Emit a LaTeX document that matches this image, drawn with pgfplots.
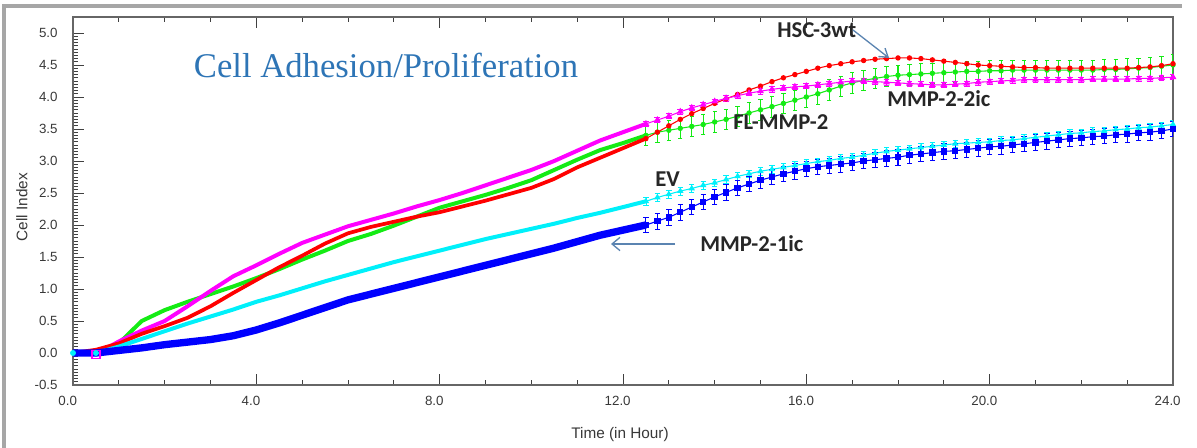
\documentclass[border=0pt]{standalone}
\usepackage{fontspec}
\setmainfont{Liberation Sans}
\newfontfamily\titlefont{Liberation Serif}
\newfontfamily\annfont{Carlito}
\usepackage{pgfplots}
\pgfplotsset{compat=1.18}
\usepackage{pgfplotstable}
\usetikzlibrary{arrows.meta}

\definecolor{ttl}{RGB}{46,117,182}
\definecolor{arr}{RGB}{91,132,177}
\definecolor{cgreen}{RGB}{20,235,20}
\definecolor{ccyan}{RGB}{0,240,250}
\definecolor{cmag}{RGB}{255,0,255}
\definecolor{cblue}{RGB}{0,0,255}
\definecolor{cred}{RGB}{255,0,0}

% t  blue(MMP-2-1ic) cyan(EV) green(FL-MMP-2) red(HSC-3wt) magenta(MMP-2-2ic)
\pgfplotstableread{
t    b    c    g    r    m
0    0    0    0    0    0
0.5  0    0    0    0.05 -0.02
1.0  0.04 0.10 0.15 0.15 0.18
1.5  0.08 0.22 0.50 0.30 0.35
2.0  0.13 0.34 0.67 0.42 0.50
2.5  0.17 0.46 0.80 0.55 0.73
3.0  0.21 0.57 0.92 0.73 0.97
3.5  0.27 0.68 1.04 0.94 1.20
4.0  0.36 0.80 1.17 1.14 1.37
4.5  0.47 0.90 1.31 1.34 1.55
5.0  0.59 1.01 1.46 1.52 1.72
5.5  0.71 1.12 1.60 1.71 1.85
6.0  0.83 1.22 1.75 1.87 1.98
6.5  0.92 1.32 1.86 1.97 2.08
7.0  1.01 1.42 1.99 2.05 2.18
7.5  1.10 1.51 2.13 2.13 2.29
8.0  1.19 1.60 2.27 2.20 2.39
8.5  1.28 1.69 2.37 2.29 2.50
9.0  1.37 1.78 2.47 2.38 2.62
9.5  1.46 1.86 2.58 2.48 2.74
10.0 1.55 1.94 2.70 2.58 2.86
10.5 1.64 2.02 2.86 2.72 3.00
11.0 1.74 2.11 3.02 2.90 3.16
11.5 1.84 2.19 3.17 3.05 3.32
12.0 1.92 2.28 3.28 3.20 3.45
12.5 2.00 2.37 3.40 3.35 3.58
}\dense

\pgfplotstableread{
t     b    c    g    r    m
12.5  2.00 2.37 3.40 3.35 3.58
12.75 2.06 2.43 3.45 3.45 3.64
13.0  2.12 2.48 3.48 3.55 3.70
13.25 2.20 2.53 3.51 3.65 3.77
13.5  2.28 2.57 3.54 3.74 3.83
13.75 2.36 2.62 3.57 3.82 3.88
14.0  2.44 2.66 3.61 3.90 3.93
14.25 2.51 2.71 3.65 3.97 3.98
14.5  2.58 2.76 3.70 4.04 4.02
14.75 2.64 2.80 3.75 4.11 4.06
15.0  2.70 2.84 3.80 4.17 4.09
15.25 2.75 2.87 3.85 4.24 4.12
15.5  2.80 2.90 3.90 4.30 4.14
15.75 2.84 2.93 3.95 4.35 4.16
16.0  2.88 2.96 4.00 4.40 4.17
16.25 2.91 2.99 4.05 4.45 4.19
16.5  2.93 3.01 4.11 4.49 4.21
16.75 2.95 3.04 4.17 4.52 4.23
17.0  2.97 3.06 4.22 4.55 4.25
17.25 3.00 3.09 4.26 4.57 4.25
17.5  3.02 3.12 4.29 4.59 4.24
17.75 3.04 3.15 4.32 4.60 4.23
18.0  3.06 3.17 4.34 4.61 4.22
18.25 3.09 3.19 4.35 4.61 4.21
18.5  3.11 3.21 4.36 4.60 4.20
18.75 3.13 3.23 4.37 4.58 4.19
19.0  3.15 3.25 4.38 4.56 4.19
19.25 3.16 3.27 4.39 4.54 4.20
19.5  3.18 3.28 4.40 4.52 4.21
19.75 3.20 3.29 4.40 4.50 4.23
20.0  3.22 3.30 4.41 4.49 4.24
20.25 3.23 3.32 4.41 4.48 4.25
20.5  3.25 3.33 4.42 4.47 4.26
20.75 3.27 3.35 4.42 4.46 4.27
21.0  3.29 3.37 4.42 4.46 4.27
21.25 3.31 3.39 4.42 4.45 4.27
21.5  3.33 3.41 4.42 4.45 4.27
21.75 3.35 3.43 4.42 4.45 4.27
22.0  3.36 3.44 4.42 4.45 4.27
22.25 3.38 3.46 4.42 4.45 4.28
22.5  3.39 3.47 4.43 4.45 4.28
22.75 3.41 3.49 4.43 4.45 4.28
23.0  3.42 3.50 4.44 4.45 4.28
23.25 3.44 3.52 4.45 4.46 4.29
23.5  3.45 3.53 4.46 4.47 4.29
23.75 3.47 3.55 4.48 4.49 4.30
24.0  3.50 3.57 4.50 4.52 4.31
}\sparse

\begin{document}
\begin{tikzpicture}
\begin{axis}[
  scale only axis, width=825pt, height=276pt,
  xmin=0, xmax=24, ymin=-0.5, ymax=5.25,
  xtick={0,4,...,24}, minor x tick num=3,
  ytick={-0.5,0,...,5}, minor y tick num=9,
  xtick pos=both, ytick pos=left, tick align=inside,
  major tick length=8pt, minor tick length=4pt,
  axis line style={color=black!60, line width=0.9pt},
  every tick/.style={black!75, line width=0.6pt},
  /pgf/number format/.cd, fixed, fixed zerofill, precision=1, assume math mode=true,
  /pgfplots/.cd,
  tick label style={font=\fontsize{10}{12}\selectfont, color=black!78},
  xticklabel style={yshift=-5pt, xshift=-4pt},
  yticklabel style={xshift=-8pt},
  clip=true,
]
% dense early part
\addplot[cgreen, line width=3pt, no marks] table[x=t,y=g]{\dense};
\addplot[cmag, line width=3pt, no marks] table[x=t,y=m]{\dense};
\addplot[cred, line width=2.8pt, no marks] table[x=t,y=r]{\dense};
\addplot[ccyan, line width=3pt, no marks] table[x=t,y=c]{\dense};
\addplot[cblue, line width=5.5pt, no marks] table[x=t,y=b]{\dense};
% sparse later part
\addplot[cgreen, line width=0.8pt, mark=*, mark size=1.6pt,
  error bars/.cd, y dir=both, y fixed=0.16,
  error bar style={line width=0.8pt}] table[x=t,y=g]{\sparse};
\addplot[cred, line width=0.8pt, mark=*, mark size=1.6pt] table[x=t,y=r]{\sparse};
\addplot[cmag, line width=0.8pt, mark=triangle*, mark size=2.2pt,
  error bars/.cd, y dir=both, y fixed=0.04,
  error bar style={line width=0.6pt}] table[x=t,y=m]{\sparse};
\addplot[ccyan, line width=0.8pt, mark=triangle*, mark size=2pt,
  error bars/.cd, y dir=both, y fixed=0.06,
  error bar style={line width=0.6pt}] table[x=t,y=c]{\sparse};
\addplot[cblue, line width=0.8pt, mark=square*, mark size=2pt,
  error bars/.cd, y dir=both, y fixed=0.12,
  error bar style={line width=0.8pt}] table[x=t,y=b]{\sparse};
% start markers
\addplot[cmag, only marks, mark=square, mark size=3pt, line width=1pt] coordinates {(0.5,-0.02)};
\addplot[ccyan, only marks, mark=*, mark size=2pt] coordinates {(0,0) (0.5,0)};
\end{axis}

\begin{scope}[x=0.75pt, y=-0.75pt, shift={(-73,-385)}]
  \path[use as bounding box] (0,0) rectangle (1197,448);
  \draw[black!35, line width=3pt] (4,448) -- (4,6) -- (1182,6);
  \node[anchor=base, inner sep=0, text=ttl, font=\titlefont\fontsize{26}{30}\selectfont] at (386,78) {Cell Adhesion/Proliferation};
  \begin{scope}[every node/.style={anchor=base west, inner sep=0, text=black!85, font=\annfont\bfseries\fontsize{17}{20}\selectfont}]
    \node at (777,38) {HSC-3wt};
    \node at (887,107) {MMP-2-2ic};
    \node at (733,130) {FL-MMP-2};
    \node at (655,187) {EV};
    \node at (700,252) {MMP-2-1ic};
  \end{scope}
  \draw[arr, line width=1pt, -{Straight Barb[length=6pt,width=8pt]}] (853,30) -- (889,58);
  \draw[arr, line width=1pt, -{Straight Barb[length=6pt,width=10pt]}] (675,244) -- (611,244);
  \node[rotate=90, inner sep=0, text=black!78, font=\fontsize{11.5}{14}\selectfont] at (22,207) {Cell Index};
  \node[inner sep=0, text=black!78, font=\fontsize{11.5}{14}\selectfont] at (620,435) {Time (in Hour)};
\end{scope}
\end{tikzpicture}
\end{document}
